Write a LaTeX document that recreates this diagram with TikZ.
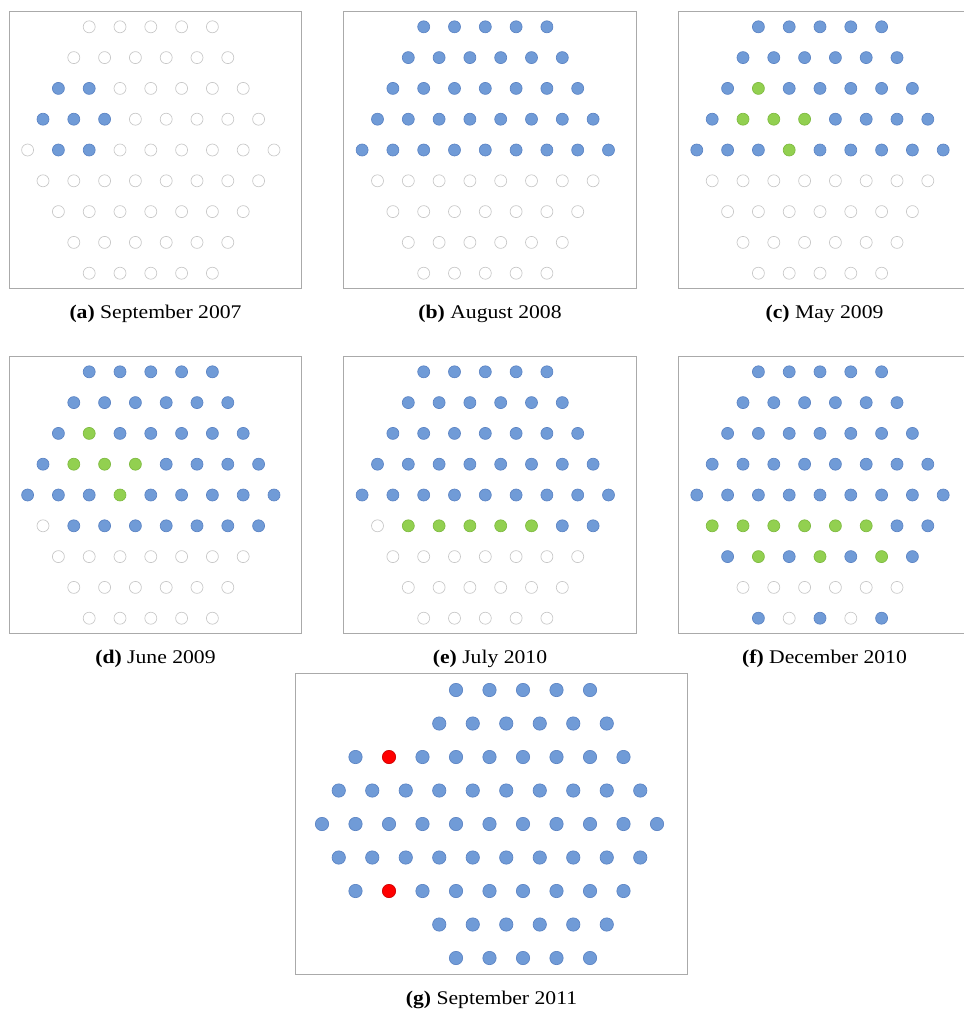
\documentclass[tikz,border=0pt]{standalone}
\usepackage{fontspec}
\setmainfont{Liberation Serif}[FakeStretch=1.12]
\usepackage{xcolor}
\usepackage{tikz}
\usetikzlibrary{positioning}
\definecolor{dotblue}{RGB}{112,155,215}
\definecolor{dotblueline}{RGB}{92,132,196}
\definecolor{dotgreen}{RGB}{146,208,80}
\definecolor{dotgreenline}{RGB}{126,186,64}
\definecolor{dotred}{RGB}{255,0,0}
\definecolor{dotredline}{RGB}{205,0,0}
\definecolor{dotempty}{RGB}{200,200,200}
\definecolor{figframe}{RGB}{170,170,170}
\tikzset{
  hexdot/.style  ={circle, inner sep=0pt, line width=0.5pt},
  hexdot0/.style ={hexdot, draw=dotempty, fill=white},
  hexdot1/.style ={hexdot, draw=dotblueline, fill=dotblue},
  hexdot2/.style ={hexdot, draw=dotgreenline, fill=dotgreen},
  hexdot3/.style ={hexdot, draw=dotredline, fill=dotred},
  panel/.style   ={draw=figframe, line width=0.75pt, inner sep=0pt},
  captext/.style ={font=\fontsize{14.5}{16}\selectfont, inner sep=0pt},
}
% #1 name, #2 #3 centre, #4 pitch, #5 dot size, #6 rows as first-offset/states
\newcommand{\hexlayout}[6]{%
  \foreach \first/\states [count=\r] in {#6} {
    \foreach \st [count=\k] in \states {
      \node[hexdot\st, minimum size=#5] (#1-\r-\k)
        at ({#2+(\first+\k-1)*#4},{#3+(\r-5)*#4}) {};
    }
  }
}

\begin{document}
\begin{tikzpicture}[x=0.75pt,y=-0.75pt]
  \useasboundingbox (0,0) rectangle (964,1011);
  \clip (0,0) rectangle (964,1011);
  % frames
  \node[panel, minimum width=219.3pt, minimum height=207.5pt] (fa) at (155.5,150) {};
  \node[panel, minimum width=219.3pt, minimum height=207.5pt] (fb) at (490,150) {};
  \node[panel, minimum width=219.3pt, minimum height=207.5pt] (fc) at (824.5,150) {};
  \node[panel, minimum width=219.3pt, minimum height=207.5pt] (fd) at (155.5,494.7) {};
  \node[panel, minimum width=219.3pt, minimum height=207.5pt] (fe) at (490,494.7) {};
  \node[panel, minimum width=219.3pt, minimum height=207.5pt] (ff) at (824.5,494.7) {};
  \node[panel, minimum width=294pt, minimum height=225.75pt] (fg) at (491.5,823.5) {};
  % captions
  \node[captext, below=12pt of fa] (capa) {\textbf{(a)} September 2007};
  \node[captext, below=12pt of fb] (capb) {\textbf{(b)} August 2008};
  \node[captext, below=12pt of fc] (capc) {\textbf{(c)} May 2009};
  \node[captext, below=12pt of fd] (capd) {\textbf{(d)} June 2009};
  \node[captext, below=12pt of fe] (cape) {\textbf{(e)} July 2010};
  \node[captext, below=12pt of ff] (capf) {\textbf{(f)} December 2010};
  \node[captext, below=12pt of fg] (capg) {\textbf{(g)} September 2011};
  % (a) September 2007
  \hexlayout{a}{150.8}{150}{30.8}{9pt}{
    -2/{0,0,0,0,0}, -2.5/{0,0,0,0,0,0}, -3/{1,1,0,0,0,0,0},
    -3.5/{1,1,1,0,0,0,0,0}, -4/{0,1,1,0,0,0,0,0,0}, -3.5/{0,0,0,0,0,0,0,0},
    -3/{0,0,0,0,0,0,0}, -2.5/{0,0,0,0,0,0}, -2/{0,0,0,0,0}}
  % (b) August 2008
  \hexlayout{b}{485.3}{150}{30.8}{9pt}{
    -2/{1,1,1,1,1}, -2.5/{1,1,1,1,1,1}, -3/{1,1,1,1,1,1,1},
    -3.5/{1,1,1,1,1,1,1,1}, -4/{1,1,1,1,1,1,1,1,1}, -3.5/{0,0,0,0,0,0,0,0},
    -3/{0,0,0,0,0,0,0}, -2.5/{0,0,0,0,0,0}, -2/{0,0,0,0,0}}
  % (c) May 2009
  \hexlayout{c}{820}{150}{30.8}{9pt}{
    -2/{1,1,1,1,1}, -2.5/{1,1,1,1,1,1}, -3/{1,2,1,1,1,1,1},
    -3.5/{1,2,2,2,1,1,1,1}, -4/{1,1,1,2,1,1,1,1,1}, -3.5/{0,0,0,0,0,0,0,0},
    -3/{0,0,0,0,0,0,0}, -2.5/{0,0,0,0,0,0}, -2/{0,0,0,0,0}}
  % (d) June 2009
  \hexlayout{d}{150.8}{495}{30.8}{9pt}{
    -2/{1,1,1,1,1}, -2.5/{1,1,1,1,1,1}, -3/{1,2,1,1,1,1,1},
    -3.5/{1,2,2,2,1,1,1,1}, -4/{1,1,1,2,1,1,1,1,1}, -3.5/{0,1,1,1,1,1,1,1},
    -3/{0,0,0,0,0,0,0}, -2.5/{0,0,0,0,0,0}, -2/{0,0,0,0,0}}
  % (e) July 2010
  \hexlayout{e}{485.3}{495}{30.8}{9pt}{
    -2/{1,1,1,1,1}, -2.5/{1,1,1,1,1,1}, -3/{1,1,1,1,1,1,1},
    -3.5/{1,1,1,1,1,1,1,1}, -4/{1,1,1,1,1,1,1,1,1}, -3.5/{0,2,2,2,2,2,1,1},
    -3/{0,0,0,0,0,0,0}, -2.5/{0,0,0,0,0,0}, -2/{0,0,0,0,0}}
  % (f) December 2010
  \hexlayout{f}{820}{495}{30.8}{9pt}{
    -2/{1,1,1,1,1}, -2.5/{1,1,1,1,1,1}, -3/{1,1,1,1,1,1,1},
    -3.5/{1,1,1,1,1,1,1,1}, -4/{1,1,1,1,1,1,1,1,1}, -3.5/{2,2,2,2,2,2,1,1},
    -3/{1,2,1,2,1,2,1}, -2.5/{0,0,0,0,0,0}, -2/{1,0,1,0,1}}
  % (g) September 2011
  \hexlayout{g}{523}{824}{33.5}{10pt}{
    -2/{1,1,1,1,1}, -2.5/{1,1,1,1,1,1}, -5/{1,3,1,1,1,1,1,1,1},
    -5.5/{1,1,1,1,1,1,1,1,1,1}, -6/{1,1,1,1,1,1,1,1,1,1,1}, -5.5/{1,1,1,1,1,1,1,1,1,1},
    -5/{1,3,1,1,1,1,1,1,1}, -2.5/{1,1,1,1,1,1}, -2/{1,1,1,1,1}}
\end{tikzpicture}
\end{document}
